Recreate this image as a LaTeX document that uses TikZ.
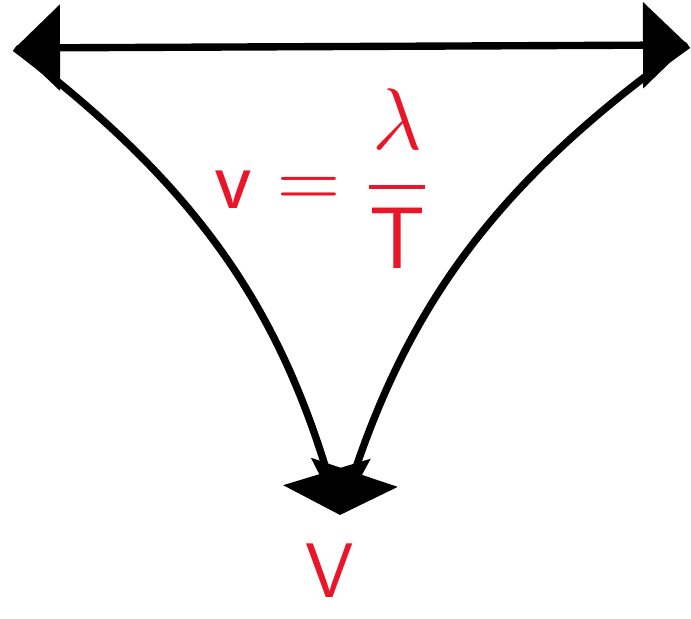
\documentclass[tikz,border=0pt]{standalone}
\usepackage{xcolor}
\usepackage{amsmath}
\usepackage{tikz}
\usetikzlibrary{arrows.meta, positioning}
\definecolor{myred}{RGB}{232,22,40}
\definecolor{mydark}{RGB}{0,0,0}
\tikzset{
  arrow/.style={-{Triangle[length=4.5mm, width=9mm]}, line width=2.1pt, color=mydark},
  bothways/.style={{Triangle[length=4.5mm, width=8.5mm]}-{Triangle[length=4.5mm, width=8.5mm]}, line width=2.1pt, color=mydark},
  lbl/.style={font=\fontsize{24}{28}\selectfont\sffamily, text=myred}
}

\begin{document}
\begin{tikzpicture}
\useasboundingbox (0,0) rectangle (6.91,6.19);
\coordinate (left)   at (0.15, 5.71);
\coordinate (right)  at (6.88, 5.74);
\coordinate (bottom) at (3.40, 1.04);

\draw[bothways] (left) -- (right);
\draw[arrow] (left)  to[bend left=18]  (bottom);
\draw[arrow] (right) to[bend right=18] (bottom);

% formula inside the triangle
\node[lbl] (formula) at (3.22, 4.40) {$\mathsf{v}=\dfrac{\lambda}{\mathsf{T}}$};

% label below the bottom corner
\node[lbl, font=\fontsize{22}{26}\selectfont\sffamily, inner sep=0pt] (vlabel) at (3.30, 0.48) {V};
\end{tikzpicture}
\end{document}
